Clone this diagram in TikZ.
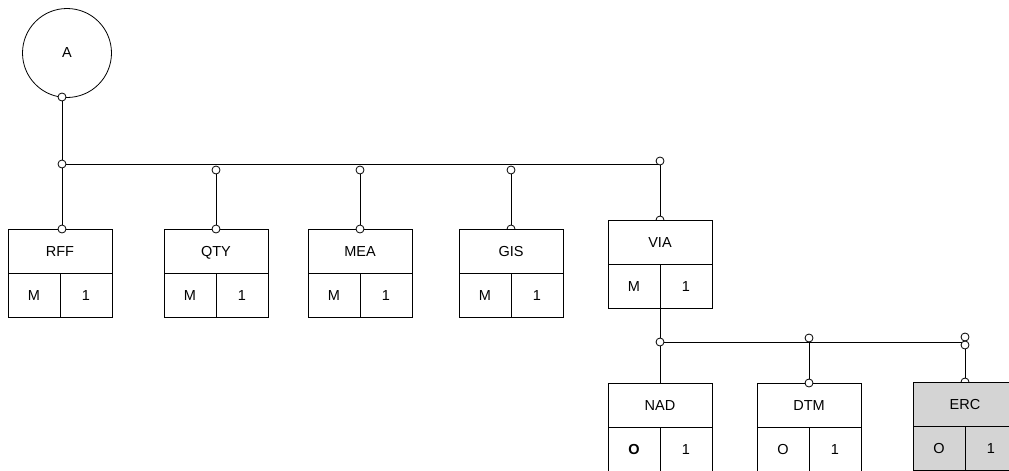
\documentclass[tikz,border=0pt]{standalone}
\usepackage{fontspec}
\setmainfont{Liberation Sans}
\usetikzlibrary{positioning}
\newcommand{\segfont}{\fontsize{14.5}{16}\selectfont}
\tikzset{seghead/.style={draw,fill=white,minimum width=104pt,minimum height=44pt,inner sep=0pt,outer sep=0pt,text height=10.5pt,text depth=0pt,font=\segfont},
segcell/.style={draw,fill=white,minimum width=52pt,minimum height=44pt,inner sep=0pt,outer sep=0pt,text height=10.5pt,text depth=0pt,font=\segfont},
port/.style={circle,draw,fill=white,minimum size=8pt,inner sep=0pt},
grp/.style={circle,draw,minimum size=89pt,inner sep=0pt,font=\segfont},
opt/.style={fill=black!17}}
% box: header with status and repeat cells below
\newcommand{\segbox}[6][]{\node[seghead,#1,anchor=north](#2)at#3{#4};
\node[segcell,#1,anchor=north east](#2-st)at(#2.south){#5};\node[segcell,#1,anchor=north west](#2-rp)at(#2.south){#6};}

\begin{document}
\begin{tikzpicture}[x=1pt,y=-1pt,line width=0.8pt]
\useasboundingbox(0,0)rectangle(1009,471);\clip(0,0)rectangle(1009,471);
\node[grp](a)at(67,53){A};
\node[port](pa)at(62,97){};\node[port](j0)at(62,164){};\coordinate(h0)at(660,164);
\draw(pa)--(j0);\draw(j0)--(h0);
% first level
\node[port](t-qty)at(216,170){};\node[port](t-mea)at(360,170){};\node[port](t-gis)at(511,170){};\node[port](t-via)at(660,161){};
\node[port](b-gis)at(511,229){};\node[port](b-via)at(660,220){};
\segbox{rff}{(60,229)}{RFF}{M}{1}\segbox{qty}{(216,229)}{QTY}{M}{1}\segbox{mea}{(360,229)}{MEA}{M}{1}
\segbox{gis}{(511,229)}{GIS}{M}{1}\segbox{via}{(660,220)}{VIA}{M}{1}
\node[port](b-rff)at(62,229){};\node[port](b-qty)at(216,229){};\node[port](b-mea)at(360,229){};
\draw(j0)--(b-rff);\draw(t-qty)--(b-qty);\draw(t-mea)--(b-mea);\draw(t-gis)--(b-gis.north);\draw(t-via)--(b-via.north);
% second level
\node[port](j1)at(660,342){};\coordinate(h1)at(966,342);
\draw(via-st.south east)--(j1);\draw(j1)--(h1);
\node[port](t-dtm)at(809,338){};\node[port](t-erc)at(965,337){};\node[port](u-erc)at(965,345){};\node[port](b-erc)at(965,382){};
\segbox{nad}{(660,383)}{NAD}{\bfseries O}{1}\segbox{dtm}{(809,383)}{DTM}{O}{1}\segbox[opt]{erc}{(965,382)}{ERC}{O}{1}
\node[port](b-dtm)at(809,383){};
\draw(j1)--(nad.north);\draw(t-dtm)--(b-dtm);\draw(u-erc)--(b-erc.north);
\end{tikzpicture}
\end{document}
